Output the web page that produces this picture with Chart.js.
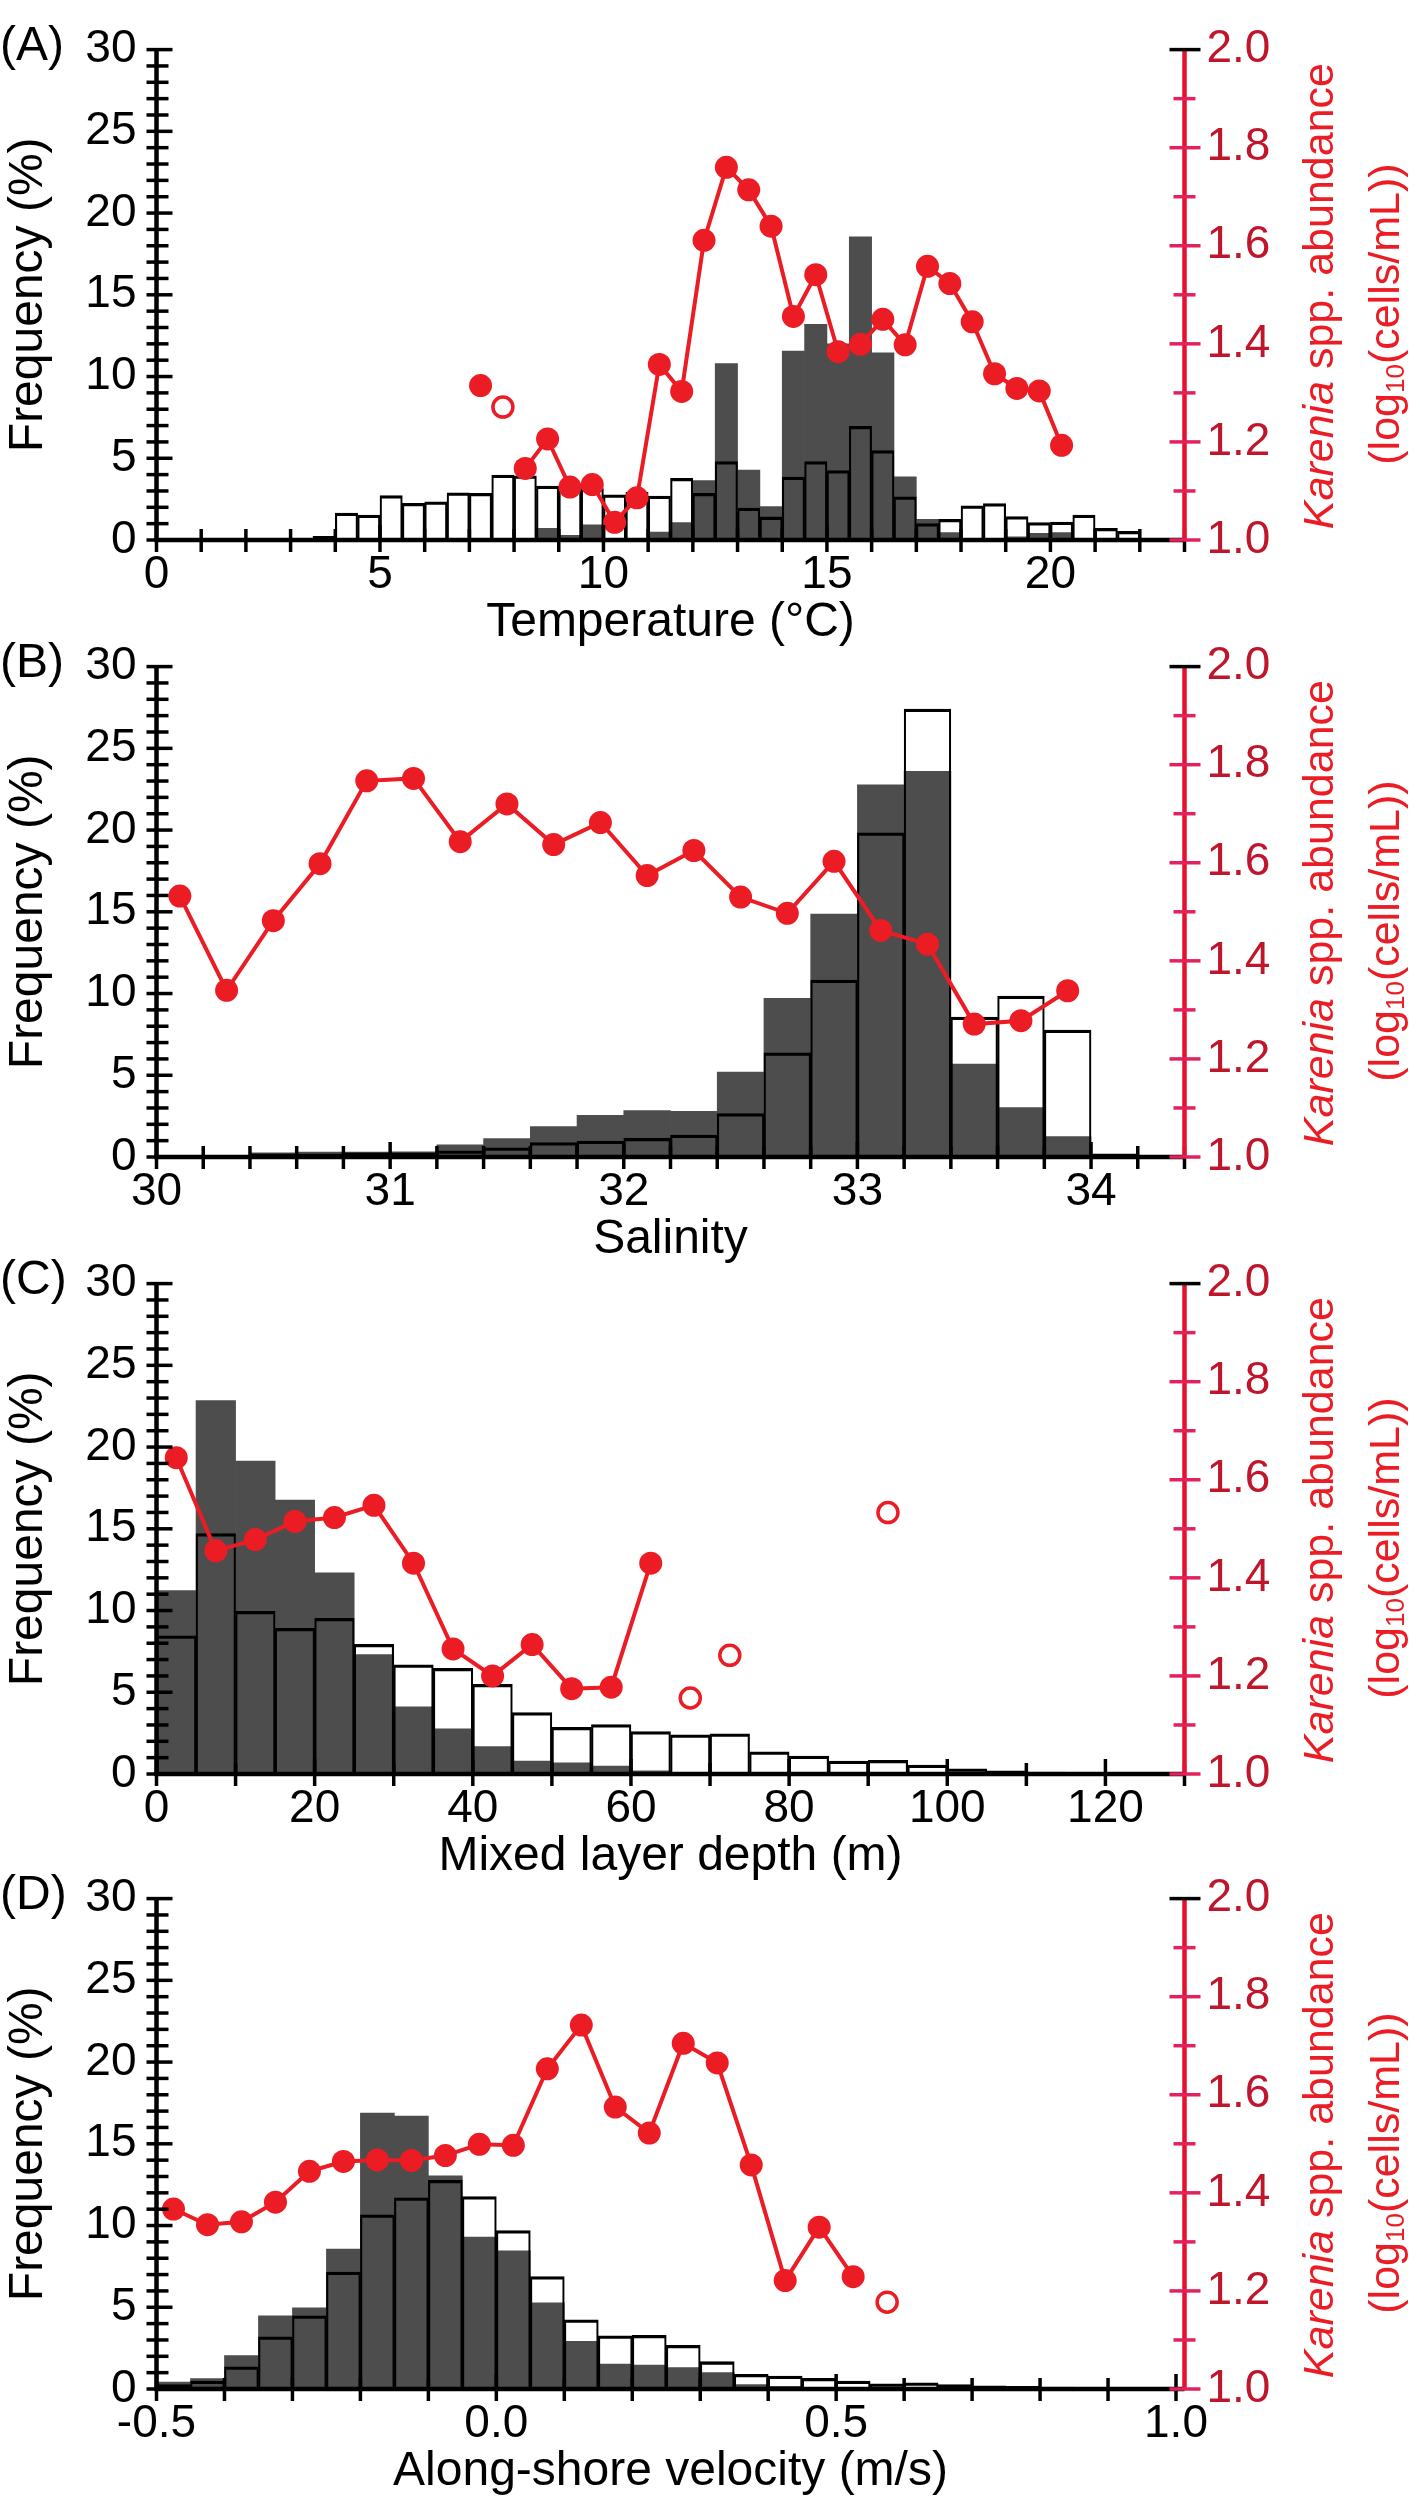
<!DOCTYPE html>
<html>
<head>
<meta charset="utf-8">
<script src="https://cdn.jsdelivr.net/npm/chart.js@4.4.1/dist/chart.umd.min.js"></script>
<style>
  html, body { margin: 0; padding: 0; background: #fff; overflow: hidden; width: 1420px; height: 2500px; }
  .panel { position: absolute; left: 0; width: 1420px; height: 680px; }
</style>
</head>
<body>
<div class="panel" style="top:0px"><canvas id="chartA"></canvas></div>
<div class="panel" style="top:617px"><canvas id="chartB"></canvas></div>
<div class="panel" style="top:1234px"><canvas id="chartC"></canvas></div>
<div class="panel" style="top:1849px"><canvas id="chartD"></canvas></div>
<script>
// (A) temperature
const tempBins = [3.75, 4.25, 4.75, 5.25, 5.75, 6.25, 6.75, 7.25, 7.75, 8.25, 8.75, 9.25, 9.75, 10.25, 10.75, 11.25, 11.75, 12.25, 12.75, 13.25, 13.75, 14.25, 14.75, 15.25, 15.75, 16.25, 16.75, 17.25, 17.75, 18.25, 18.75, 19.25, 19.75, 20.25, 20.75, 21.25, 21.75];
const tempAll = [0.23, 1.65, 1.52, 2.72, 2.24, 2.33, 2.88, 2.86, 3.97, 3.93, 3.3, 3.2, 3.15, 2.76, 2.92, 2.69, 3.77, 2.85, 4.8, 1.95, 1.41, 3.85, 4.8, 4.24, 6.95, 5.47, 2.64, 1.0, 1.27, 2.09, 2.23, 1.43, 1.07, 1.1, 1.52, 0.72, 0.53];
const tempBloom = [0, 0, 0, 0, 0, 0, 0, 0, 0, 0.05, 0.72, 0.29, 0.93, 0.1, 0.1, 0.48, 1.07, 3.63, 10.8, 4.28, 2.05, 11.56, 13.2, 12.0, 18.55, 11.45, 3.87, 1.27, 0.45, 0.04, 0.08, 0.2, 0.41, 0.45, 0, 0, 0];
const tempLineX = [7.25, 7.75, 8.25, 8.75, 9.25, 9.75, 10.25, 10.75, 11.25, 11.75, 12.25, 12.75, 13.25, 13.75, 14.25, 14.75, 15.25, 15.75, 16.25, 16.75, 17.25, 17.75, 18.25, 18.75, 19.25, 19.75, 20.25];
const tempLineY = [1.315, null, 1.146, 1.206, 1.108, 1.113, 1.036, 1.086, 1.358, 1.303, 1.611, 1.760, 1.714, 1.640, 1.456, 1.541, 1.384, 1.399, 1.450, 1.398, 1.558, 1.523, 1.445, 1.339, 1.309, 1.304, 1.193];
const tempOpenX = [7.75];
const tempOpenY = [1.271];

// (B) salinity
const salBins = [30.1, 30.3, 30.5, 30.7, 30.9, 31.1, 31.3, 31.5, 31.7, 31.9, 32.1, 32.3, 32.5, 32.7, 32.9, 33.1, 33.3, 33.5, 33.7, 33.9, 34.1, 34.3];
const salAll = [0.05, 0.08, 0.2, 0.2, 0.25, 0.25, 0.38, 0.56, 0.88, 0.98, 1.15, 1.34, 2.65, 6.37, 10.83, 19.83, 27.4, 8.56, 9.85, 7.77, 0.2, 0];
const salBloom = [0.03, 0.1, 0.25, 0.3, 0.3, 0.32, 0.75, 1.13, 1.86, 2.55, 2.84, 2.8, 5.2, 9.7, 14.86, 22.76, 23.6, 5.68, 3.03, 1.25, 0.05, 0];
const salLineX = [30.1, 30.3, 30.5, 30.7, 30.9, 31.1, 31.3, 31.5, 31.7, 31.9, 32.1, 32.3, 32.5, 32.7, 32.9, 33.1, 33.3, 33.5, 33.7, 33.9];
const salLineY = [1.532, 1.340, 1.482, 1.598, 1.767, 1.772, 1.643, 1.720, 1.637, 1.682, 1.574, 1.625, 1.530, 1.497, 1.603, 1.462, 1.434, 1.271, 1.278, 1.339];
const salOpenX = [];
const salOpenY = [];

// (C) mixed layer depth
const mldBins = [2.5, 7.5, 12.5, 17.5, 22.5, 27.5, 32.5, 37.5, 42.5, 47.5, 52.5, 57.5, 62.5, 67.5, 72.5, 77.5, 82.5, 87.5, 92.5, 97.5, 102.5, 107.5, 112.5, 117.5];
const mldAll = [8.45, 14.71, 9.95, 8.91, 9.53, 7.93, 6.68, 6.47, 5.49, 3.76, 2.86, 3.03, 2.6, 2.4, 2.46, 1.36, 1.1, 0.79, 0.83, 0.54, 0.31, 0.19, 0.12, 0.05];
const mldBloom = [11.22, 22.85, 19.15, 16.75, 12.31, 7.3, 4.11, 2.77, 1.67, 0.79, 0.69, 0.48, 0.2, 0.05, 0.03, 0, 0, 0, 0, 0, 0, 0, 0, 0];
const mldLineX = [2.5, 7.5, 12.5, 17.5, 22.5, 27.5, 32.5, 37.5, 42.5, 47.5, 52.5, 57.5, 62.5];
const mldLineY = [1.645, 1.455, 1.478, 1.515, 1.523, 1.548, 1.430, 1.255, 1.200, 1.264, 1.174, 1.177, 1.430];
const mldOpenX = [67.5, 72.5, 92.5];
const mldOpenY = [1.155, 1.242, 1.533];

// (D) along-shore velocity
const velBins = [-0.475, -0.425, -0.375, -0.325, -0.275, -0.225, -0.175, -0.125, -0.075, -0.025, 0.025, 0.075, 0.125, 0.175, 0.225, 0.275, 0.325, 0.375, 0.425, 0.475, 0.525, 0.575, 0.625, 0.675, 0.725, 0.775, 0.825, 0.875, 0.925, 0.975];
const velAll = [0.27, 0.48, 1.35, 3.19, 4.48, 7.15, 10.65, 11.69, 12.77, 11.77, 9.69, 6.88, 4.23, 3.25, 3.29, 2.67, 1.67, 0.9, 0.79, 0.65, 0.48, 0.31, 0.38, 0.27, 0.2, 0.17, 0.12, 0.1, 0.06, 0.04];
const velBloom = [0.42, 0.63, 2.04, 4.48, 4.96, 8.56, 16.88, 16.69, 13.04, 9.29, 8.46, 5.27, 2.92, 1.52, 1.46, 1.31, 1.0, 0.27, 0.17, 0.1, 0.03, 0, 0, 0, 0, 0, 0, 0, 0, 0];
const velLineX = [-0.475, -0.425, -0.375, -0.325, -0.275, -0.225, -0.175, -0.125, -0.075, -0.025, 0.025, 0.075, 0.125, 0.175, 0.225, 0.275, 0.325, 0.375, 0.425, 0.475, 0.525];
const velLineY = [1.367, 1.335, 1.341, 1.381, 1.444, 1.464, 1.467, 1.466, 1.476, 1.499, 1.497, 1.653, 1.742, 1.575, 1.522, 1.705, 1.665, 1.457, 1.221, 1.330, 1.229];
const velOpenX = [0.575];
const velOpenY = [1.177];

const FONT = '"Liberation Sans", Arial, Helvetica, sans-serif';
const RED = '#ec1c24';
const AXIS_RED = '#e8112d';
const TICK_PINK = '#e2225e';
const LABEL_RED = '#c0162c';
const DARK = '#4d4d4d';
const PANEL_H = 680;

const isMajor = (v, every) => Math.abs(v / every - Math.round(v / every)) < 1e-6;
const pairs = (xs, ys) => xs.map((x, i) => ({ x, y: ys[i] }));

function stroke(ctx, x1, y1, x2, y2) {
  ctx.beginPath();
  ctx.moveTo(x1, y1);
  ctx.lineTo(x2, y2);
  ctx.stroke();
}

function drawRuns(ctx, runs, bx, cy) {
  let total = 0;
  runs.forEach(r => { ctx.font = r.f; r.w = ctx.measureText(r.t).width; total += r.w; });
  ctx.save();
  ctx.translate(bx, cy);
  ctx.rotate(-Math.PI / 2);
  let x = -total / 2;
  runs.forEach(r => { ctx.font = r.f; ctx.fillText(r.t, x, r.dy || 0); x += r.w; });
  ctx.restore();
}

// axes with crossing ticks, panel letter, right-hand title
const frameTicks = {
  id: 'frameTicks',
  afterDraw(chart, args, opts) {
    const { ctx, chartArea: a, scales: { x, y, y1 } } = chart;
    ctx.save();
    ctx.lineCap = 'butt';

    ctx.strokeStyle = '#000';
    ctx.lineWidth = 4.5;
    stroke(ctx, a.left, a.top, a.left, a.bottom + 2);
    stroke(ctx, a.left - 2, a.bottom, a.right, a.bottom);

    ctx.lineWidth = 3.5;
    y.ticks.forEach(t => {
      const py = y.getPixelForValue(t.value);
      stroke(ctx, a.left - 10, py, a.left + (isMajor(t.value, 5) ? 16 : 12), py);
    });
    x.ticks.forEach(t => {
      const px = x.getPixelForValue(t.value);
      stroke(ctx, px, a.bottom - (t.label !== '' ? 15 : 11), px, a.bottom + 12);
    });

    ctx.strokeStyle = AXIS_RED;
    ctx.lineWidth = 4.5;
    stroke(ctx, a.right, a.top, a.right, a.bottom);
    ctx.lineWidth = 3.5;
    y1.ticks.forEach(t => {
      const py = y1.getPixelForValue(t.value);
      const major = isMajor(t.value, 0.2);
      ctx.strokeStyle = t.value > 1.999 ? '#000' : TICK_PINK;
      stroke(ctx, a.right - (major ? 15 : 11), py, a.right + (major ? 16 : 11), py);
    });

    ctx.fillStyle = '#000';
    ctx.textAlign = 'left';
    ctx.textBaseline = 'alphabetic';
    ctx.font = '48px ' + FONT;
    ctx.fillText(opts.label, 0, a.top - 26.5 + 37);

    ctx.fillStyle = RED;
    drawRuns(ctx, [
      { t: 'Karenia', f: 'italic 43px ' + FONT },
      { t: ' spp. abundance', f: '43px ' + FONT }
    ], a.right + 148.5, a.top + 246.5);
    drawRuns(ctx, [
      { t: '(log', f: '43px ' + FONT },
      { t: '10', f: '26px ' + FONT, dy: 5 },
      { t: '(cells/mL))', f: '43px ' + FONT }
    ], a.right + 214.5, a.top + 264.5);
    ctx.restore();
  }
};

function makePanel(id, p) {
  const tickFont = { family: FONT, size: 46 };
  const titleFont = { family: FONT, size: 48 };
  new Chart(document.getElementById(id), {
    type: 'bar',
    data: {
      datasets: [
        {
          type: 'line', data: pairs(p.lineX, p.lineY), yAxisID: 'y1', order: 0,
          borderColor: RED, borderWidth: 4, spanGaps: false,
          pointRadius: 11.5, pointBackgroundColor: RED, pointBorderWidth: 0
        },
        {
          type: 'line', data: pairs(p.openX, p.openY), yAxisID: 'y1', order: 0,
          showLine: false, pointRadius: 10, pointBackgroundColor: '#fff',
          pointBorderColor: RED, pointBorderWidth: 3.5
        },
        {
          data: pairs(p.bins, p.all), yAxisID: 'y', order: 1,
          backgroundColor: 'rgba(0,0,0,0)', borderColor: '#000',
          borderWidth: { top: 2.6, left: 1.5, right: 1.5, bottom: 0 }, borderSkipped: 'start',
          grouped: false, barPercentage: 1, categoryPercentage: 1
        },
        {
          data: pairs(p.bins, p.bloom), yAxisID: 'y', order: 2,
          backgroundColor: DARK, borderWidth: 0,
          grouped: false, barPercentage: 1, categoryPercentage: 1
        }
      ]
    },
    options: {
      responsive: true,
      maintainAspectRatio: false,
      animation: false,
      events: [],
      layout: { padding: { top: 26.5, left: 0, right: 0, bottom: 0 } },
      plugins: { legend: { display: false }, tooltip: { enabled: false }, frameTicks: { label: p.label } },
      scales: {
        x: {
          type: 'linear', position: 'bottom', min: p.xMin, max: p.xMax, offset: false,
          grid: { display: false, drawTicks: false }, border: { display: false },
          ticks: {
            stepSize: p.xStep, autoSkip: false, includeBounds: false, maxRotation: 0, minRotation: 0,
            padding: 8, color: '#000', font: tickFont,
            callback: v => isMajor(v, p.xEvery) ? (Math.abs(v) < 1e-9 ? 0 : v).toFixed(p.xDec) : ''
          },
          title: { display: true, text: p.xTitle, color: '#000', font: titleFont, padding: { top: 0, bottom: 28 } },
          afterFit: s => { s.height = PANEL_H - 540; }
        },
        y: {
          type: 'linear', position: 'left', min: 0, max: 30,
          grid: { display: false, drawTicks: false }, border: { display: false },
          ticks: { stepSize: 1, autoSkip: false, padding: 20, color: '#000', font: tickFont,
            callback: v => isMajor(v, 5) ? String(v) : '' },
          title: { display: true, text: 'Frequency (%)', color: '#000', font: titleFont, padding: { top: 0, bottom: 0 } },
          afterFit: s => { s.width = 156.5; }
        },
        y1: {
          type: 'linear', position: 'right', min: 1, max: 2,
          grid: { display: false, drawTicks: false }, border: { display: false },
          ticks: { stepSize: 0.1, autoSkip: false, padding: 22, color: LABEL_RED, font: tickFont,
            callback: v => isMajor(v, 0.2) ? v.toFixed(1) : '' },
          afterFit: s => { s.width = 1420 - 1184.5; }
        }
      }
    },
    plugins: [frameTicks]
  });
}

makePanel('chartA', { label: '(A)', bins: tempBins, all: tempAll, bloom: tempBloom,
  lineX: tempLineX, lineY: tempLineY, openX: tempOpenX, openY: tempOpenY,
  xMin: 0, xMax: 23, xStep: 1, xEvery: 5, xDec: 0, xTitle: 'Temperature (\u00B0C)' });
makePanel('chartB', { label: '(B)', bins: salBins, all: salAll, bloom: salBloom,
  lineX: salLineX, lineY: salLineY, openX: salOpenX, openY: salOpenY,
  xMin: 30, xMax: 34.4, xStep: 0.2, xEvery: 1, xDec: 0, xTitle: 'Salinity' });
makePanel('chartC', { label: '(C)', bins: mldBins, all: mldAll, bloom: mldBloom,
  lineX: mldLineX, lineY: mldLineY, openX: mldOpenX, openY: mldOpenY,
  xMin: 0, xMax: 130, xStep: 10, xEvery: 20, xDec: 0, xTitle: 'Mixed layer depth (m)' });
makePanel('chartD', { label: '(D)', bins: velBins, all: velAll, bloom: velBloom,
  lineX: velLineX, lineY: velLineY, openX: velOpenX, openY: velOpenY,
  xMin: -0.5, xMax: 1.0125, xStep: 0.1, xEvery: 0.5, xDec: 1, xTitle: 'Along-shore velocity (m/s)' });
</script>
</body>
</html>
